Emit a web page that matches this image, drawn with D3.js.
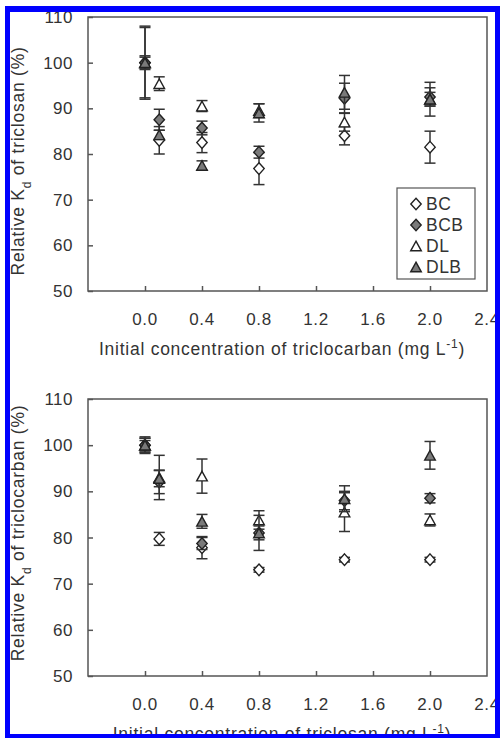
<!DOCTYPE html>
<html>
<head>
<meta charset="utf-8">
<script src="https://cdn.jsdelivr.net/npm/d3@7"></script>
<style>
  body { margin: 0; background: #fff; }
  svg { display: block; }
  text { font-family: "Liberation Sans", Arial, sans-serif; fill: #333; }
</style>
</head>
<body>
<div id="chart"></div>
<script>
// Concentrations (mg/L) shared by both panels
const conc = [0.0, 0.1, 0.4, 0.8, 1.4, 2.0];
const xTicks = [0.0, 0.4, 0.8, 1.2, 1.6, 2.0, 2.4];
const yTicks = [50, 60, 70, 80, 90, 100, 110];
const seriesNames = ["BC", "BCB", "DL", "DLB"];

// Top panel: relative Kd of triclosan vs triclocarban concentration
const tcsBC = [100, 83.0, 82.5, 76.8, 84.0, 81.5];
const tcsBCErr = [7.7, 3.0, 2.2, 3.5, 2.0, 3.5];
const tcsBCB = [100, 87.5, 85.7, 80.4, 92.2, 92.5];
const tcsBCBErr = [1.2, 2.3, 1.5, 1.3, 3.3, 2.0];
const tcsDL = [100, 95.4, 90.5, 89.5, 87.0, 92.0];
const tcsDLErr = [8.0, 1.5, 1.2, 1.5, 2.0, 1.5];
const tcsDLB = [100, 84.2, 77.5, 89.0, 93.5, 92.0];
const tcsDLBErr = [1.5, 1.0, 1.0, 2.0, 3.7, 3.7];

// Bottom panel: relative Kd of triclocarban vs triclosan concentration
const tccBC = [100, 79.7, 77.8, 73.0, 75.2, 75.2];
const tccBCErr = [1.0, 1.4, 2.4, 0.5, 0.5, 0.5];
const tccBCB = [100, 92.0, 78.7, 81.0, 88.0, 88.5];
const tccBCBErr = [1.5, 2.5, 1.3, 1.5, 2.0, 1.0];
const tccDL = [100, 93.0, 93.3, 83.8, 85.5, 83.8];
const tccDLErr = [1.5, 4.8, 3.7, 2.0, 4.2, 1.3];
const tccDLB = [100, 92.8, 83.5, 81.0, 88.4, 97.8];
const tccDLBErr = [1.8, 1.8, 1.5, 3.8, 2.8, 3.0];

const W = 500, H = 738;
const svg = d3.select("#chart").append("svg")
  .attr("width", W)
  .attr("height", H);

// custom marker shapes
const diamond = {
  draw(ctx, size) {
    const w = 5.2, h = 5.8;
    ctx.moveTo(0, -h); ctx.lineTo(w, 0); ctx.lineTo(0, h); ctx.lineTo(-w, 0); ctx.closePath();
  }
};
const triangle = {
  draw(ctx, size) {
    const w = 5.3, h = 4.8;
    ctx.moveTo(0, -h); ctx.lineTo(w, h); ctx.lineTo(-w, h); ctx.closePath();
  }
};
const styles = {
  BC: { type: diamond, fill: "#fff" },
  BCB: { type: diamond, fill: "#7a7a7a" },
  DL: { type: triangle, fill: "#fff" },
  DLB: { type: triangle, fill: "#7a7a7a" }
};
const symbolPath = name => d3.symbol().type(styles[name].type)();

function drawPanel(cfg) {
  const x = d3.scaleLinear().domain([-0.4, 2.4]).range([88, 487]);
  const y = d3.scaleLinear().domain([50, 110]).range([cfg.bottom, cfg.top]);
  const g = svg.append("g");

  // frame
  g.append("rect")
    .attr("x", x(-0.4)).attr("y", y(110))
    .attr("width", x(2.4) - x(-0.4)).attr("height", y(50) - y(110))
    .attr("fill", "none").attr("stroke", "#555").attr("stroke-width", 1.5);

  // y axis (ticks inward)
  g.append("g")
    .attr("transform", `translate(${x(-0.4)},0)`)
    .call(d3.axisRight(y).tickValues(yTicks).tickSize(5).tickFormat(""))
    .call(a => a.select(".domain").remove())
    .selectAll(".tick line").attr("stroke", "#555").attr("stroke-width", 1.5);
  g.selectAll(".ylab")
    .data(yTicks)
    .join("text")
    .attr("x", 73)
    .attr("y", d => y(d))
    .attr("dy", "0.36em")
    .attr("text-anchor", "end")
    .style("font-size", "17px")
    .style("letter-spacing", "0.5px")
    .text(d => d);

  // x axis (ticks inward)
  g.append("g")
    .attr("transform", `translate(0,${y(50)})`)
    .call(d3.axisTop(x).tickValues(xTicks.filter(d => d < 2.3)).tickSize(5).tickFormat(""))
    .call(a => a.select(".domain").remove())
    .selectAll(".tick line").attr("stroke", "#555").attr("stroke-width", 1.5);
  g.selectAll(".xlab")
    .data(xTicks)
    .join("text")
    .attr("x", d => x(d))
    .attr("y", y(50) + 34)
    .attr("text-anchor", "middle")
    .style("font-size", "17px")
    .style("letter-spacing", "0.6px")
    .text(d => d.toFixed(1));

  // axis titles
  const xt = g.append("text")
    .attr("x", 282)
    .attr("y", y(50) + 64)
    .attr("text-anchor", "middle")
    .style("font-size", "17.5px")
    .style("letter-spacing", "0.75px")
    .text(cfg.xTitle + " (mg L");
  xt.append("tspan").attr("baseline-shift", "super").style("font-size", "12px").text("-1");
  xt.append("tspan").text(")");

  const yt = g.append("text")
    .attr("transform", `translate(23.5,${cfg.yTitleY}) rotate(-90)`)
    .attr("text-anchor", "middle")
    .style("font-size", "17.5px")
    .style("letter-spacing", "0.75px")
    .text("Relative K");
  yt.append("tspan").attr("baseline-shift", "sub").style("font-size", "12px").text("d");
  yt.append("tspan").text(" of " + cfg.yTitle + " (%)");

  // series: error bars then markers
  cfg.series.forEach(s => {
    const pts = conc.map((c, i) => ({ c, v: s.values[i], e: s.errors[i] }));
    const eb = g.append("g").attr("stroke", "#333").attr("stroke-width", 1.5);
    eb.selectAll(".stem").data(pts).join("line")
      .attr("x1", d => x(d.c)).attr("x2", d => x(d.c))
      .attr("y1", d => y(d.v - d.e)).attr("y2", d => y(d.v + d.e));
    eb.selectAll(".capHi").data(pts).join("line")
      .attr("x1", d => x(d.c) - 5.5).attr("x2", d => x(d.c) + 5.5)
      .attr("y1", d => y(d.v + d.e)).attr("y2", d => y(d.v + d.e));
    eb.selectAll(".capLo").data(pts).join("line")
      .attr("x1", d => x(d.c) - 5.5).attr("x2", d => x(d.c) + 5.5)
      .attr("y1", d => y(d.v - d.e)).attr("y2", d => y(d.v - d.e));
    g.append("g").selectAll("path").data(pts).join("path")
      .attr("transform", d => `translate(${x(d.c)},${y(d.v)})`)
      .attr("d", symbolPath(s.name))
      .attr("fill", styles[s.name].fill)
      .attr("stroke", "#222")
      .attr("stroke-width", 1.4);
  });

  // legend
  if (cfg.legend) {
    const lg = g.append("g");
    lg.append("rect")
      .attr("x", 397).attr("y", 188).attr("width", 78).attr("height", 91)
      .attr("fill", "#fff").attr("stroke", "#555").attr("stroke-width", 1.2);
    seriesNames.forEach((n, i) => {
      const yy = 204 + i * 21;
      lg.append("path")
        .attr("transform", `translate(416,${yy})`)
        .attr("d", symbolPath(n))
        .attr("fill", styles[n].fill)
        .attr("stroke", "#222")
        .attr("stroke-width", 1.4);
      lg.append("text")
        .attr("x", 426).attr("y", yy).attr("dy", "0.36em")
        .style("font-size", "17.5px")
        .style("letter-spacing", "0.5px")
        .text(n);
    });
  }
}

drawPanel({
  top: 17, bottom: 291, yTitleY: 161,
  xTitle: "Initial concentration of triclocarban",
  yTitle: "triclosan",
  legend: true,
  series: [
    { name: "BC", values: tcsBC, errors: tcsBCErr },
    { name: "BCB", values: tcsBCB, errors: tcsBCBErr },
    { name: "DL", values: tcsDL, errors: tcsDLErr },
    { name: "DLB", values: tcsDLB, errors: tcsDLBErr }
  ]
});

drawPanel({
  top: 399, bottom: 676, yTitleY: 533,
  xTitle: "Initial concentration of triclosan",
  yTitle: "triclocarban",
  legend: false,
  series: [
    { name: "BC", values: tccBC, errors: tccBCErr },
    { name: "BCB", values: tccBCB, errors: tccBCBErr },
    { name: "DL", values: tccDL, errors: tccDLErr },
    { name: "DLB", values: tccDLB, errors: tccDLBErr }
  ]
});

// blue frame around the figure
const frame = svg.append("g").attr("fill", "#0000ff");
frame.append("rect").attr("x", 5).attr("y", 6).attr("width", 5).attr("height", H - 6);
frame.append("rect").attr("x", 5).attr("y", 6).attr("width", W - 5).attr("height", 6);
frame.append("rect").attr("x", 495).attr("y", 6).attr("width", 5).attr("height", H - 6);
frame.append("rect").attr("x", 5).attr("y", 734).attr("width", W - 5).attr("height", 4);
</script>
</body>
</html>
